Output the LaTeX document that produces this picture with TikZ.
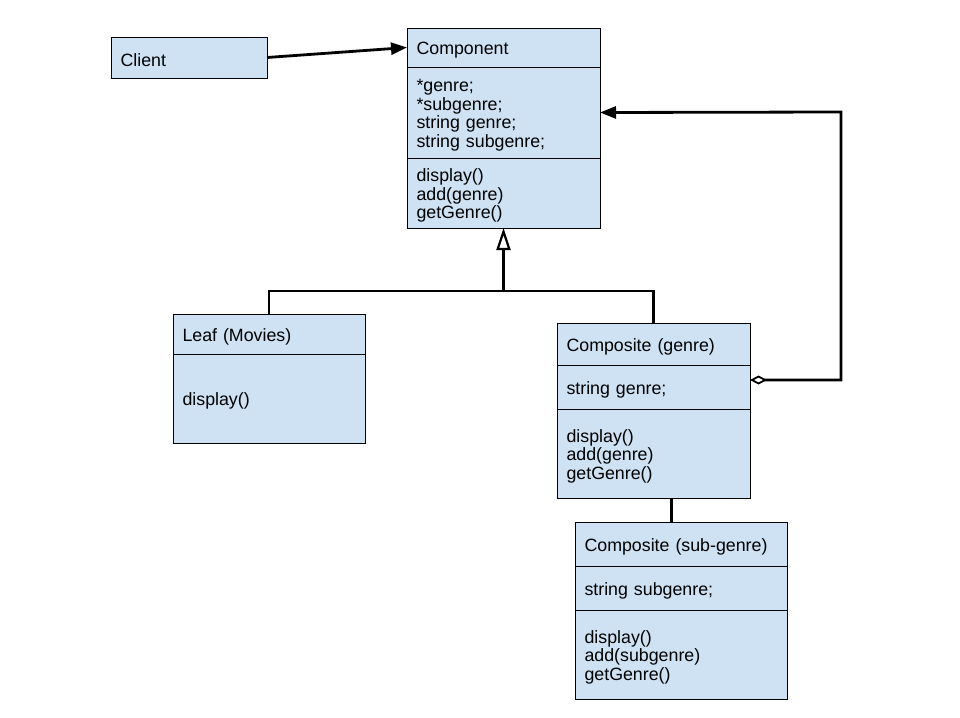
\documentclass[tikz,border=0pt]{standalone}
\usepackage{fontspec}
\setmainfont{Liberation Sans}
\usetikzlibrary{positioning,arrows.meta}
\definecolor{boxblue}{HTML}{CFE2F3}
\tikzset{
  umlpart/.style={draw=black, fill=boxblue, line width=0.9pt, outer sep=0pt,
    inner xsep=9.5pt, inner ysep=0pt, align=left, text height=18pt,
    font=\fontsize{17.8pt}{18.6pt}\selectfont},
  link/.style={line width=2.8pt},
  assoc/.style={link, -{Triangle[length=16pt,width=12pt]}},
  inherit/.style={link, -{Triangle[fill=white,length=22pt,width=14pt,line width=2.2pt]}},
  aggr/.style={link, {Diamond[fill=white,length=17pt,width=9pt,line width=1.8pt]}-{Triangle[length=16pt,width=12pt]}}
}
\begin{document}
\begin{tikzpicture}[x=1pt,y=-1pt]
    \useasboundingbox (0,0) rectangle (960,717);

    % Client
    \node (client) at (111,37) [umlpart, anchor=north west, text width=137pt, minimum height=41pt] {Client};

    % Component class: name, fields, methods
    \node (comp-title) at (407,28) [umlpart, anchor=north west, text width=174pt, minimum height=39pt] {Component};
    \node (comp-attr) [umlpart, below=0pt of comp-title, text width=174pt, minimum height=91pt]
        {{*}genre;\\ {*}subgenre;\\ string genre;\\ string subgenre;};
    \node (comp-meth) [umlpart, below=0pt of comp-attr, text width=174pt, minimum height=70pt]
        {display()\\ add(genre)\\ getGenre()};

    % Leaf
    \node (leaf-title) at (173,314) [umlpart, anchor=north west, text width=173pt, minimum height=40pt] {Leaf (Movies)};
    \node (leaf-meth) [umlpart, below=0pt of leaf-title, text width=173pt, minimum height=89pt] {display()};

    % Composite (genre)
    \node (cg-title) at (557,323) [umlpart, anchor=north west, text width=174pt, minimum height=42pt] {Composite (genre)};
    \node (cg-attr) [umlpart, below=0pt of cg-title, text width=174pt, minimum height=44pt] {string genre;};
    \node (cg-meth) [umlpart, below=0pt of cg-attr, text width=174pt, minimum height=89pt]
        {display()\\ add(genre)\\ getGenre()};

    % Composite (sub-genre)
    \node (cs-title) at (575,522) [umlpart, anchor=north west, text width=193pt, minimum height=44pt] {Composite (sub-genre)};
    \node (cs-attr) [umlpart, below=0pt of cs-title, text width=193pt, minimum height=44pt] {string subgenre;};
    \node (cs-meth) [umlpart, below=0pt of cs-attr, text width=193pt, minimum height=89pt]
        {display()\\ add(subgenre)\\ getGenre()};

    % Client uses Component
    \draw[assoc] (client.east) -- (comp-title.west);

    % Leaf and Composite inherit from Component
    \coordinate (gen) at (comp-meth.south |- 0,291);
    \draw[link] (leaf-title.north) |- (gen) -| (cg-title.north);
    \draw[inherit] (gen) -- (comp-meth.south);

    % Composite holds Components
    \coordinate (aggr-start) at ([yshift=7pt]cg-attr.east);
    \coordinate (corner) at (841,112);
    \draw[aggr] (aggr-start) -| (corner) -- (comp-attr.east);

    % genre -- sub-genre
    \draw[link] ([xshift=18pt]cg-meth.south) -- ([xshift=18pt]cg-meth.south |- cs-title.north);
\end{tikzpicture}
\end{document}
